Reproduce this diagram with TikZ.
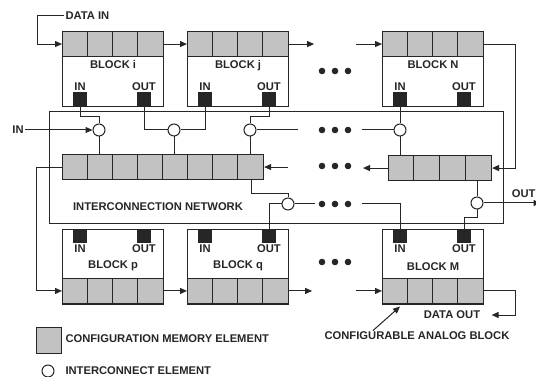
\documentclass[tikz,border=0pt]{standalone}
\usepackage{fontspec}
\setmainfont{Liberation Sans}
\usetikzlibrary{positioning,arrows.meta}

\begin{document}
\begin{tikzpicture}[x=1pt, y=-1pt,
  font=\fontsize{11.2}{13}\selectfont\bfseries,
  color=black!85, line width=1pt,
  blk/.style={draw, line width=1.1pt, minimum width=101pt, minimum height=75pt, inner sep=0pt},
  mem/.style={draw, line width=1.1pt, fill=black!24, minimum width=101pt, minimum height=25pt, inner sep=0pt},
  pin/.style={draw, fill=black!85, minimum size=13pt, inner sep=0pt},
  ic/.style={circle, draw, fill=white, minimum size=12pt, inner sep=0pt},
  lbl/.style={inner sep=1pt},
  >={Triangle[length=7pt,width=6pt]}]
\useasboundingbox (0,0) rectangle (536,377);
% top row of analog blocks
\foreach \n/\x in {i/62,j/187,N/382}{
  \node[blk, anchor=north west] (b\n) at (\x,31) {};
  \node[mem, anchor=north west] (m\n) at (\x,31) {};
  \foreach \k in {1,2,3} \draw (\x+25.25*\k,31) -- ++(0,25);
  \node[pin, anchor=south] (b\n-in) at (\x+18,106) {};
  \node[pin, anchor=south] (b\n-out) at (\x+82,106) {};
  \node[lbl, above=0pt of b\n-in] {IN};
  \node[lbl, above=0pt of b\n-out] {OUT};
  \node[lbl, below=2pt of m\n] {BLOCK \n};
}
% bottom row of analog blocks
\foreach \n/\x in {p/62,q/187,M/382}{
  \node[blk, anchor=north west] (b\n) at (\x,229) {};
  \node[mem, anchor=south west] (m\n) at (\x,304) {};
  \foreach \k in {1,2,3} \draw (\x+25.25*\k,279) -- ++(0,25);
  \node[pin, anchor=north] (b\n-in) at (\x+18,229) {};
  \node[pin, anchor=north] (b\n-out) at (\x+82,229) {};
  \node[lbl, below=0pt of b\n-in] {IN};
  \node[lbl, below=0pt of b\n-out] {OUT};
  \node[lbl, above=6pt of m\n] {BLOCK \n};
}
% interconnection network
\node[draw, minimum width=454pt, minimum height=112pt, inner sep=0pt, anchor=north west] (netw) at (49,111) {};
\node[lbl] (netlbl) at (158,207) {INTERCONNECTION NETWORK};
\node[mem, minimum width=201pt, anchor=north west] (ml) at (62,154) {};
\foreach \k in {1,...,7} \draw (62+25.125*\k,154) -- ++(0,25);
\node[mem, minimum width=103pt, anchor=north west] (mr) at (388,155) {};
\foreach \k in {1,2,3} \draw (388+25.75*\k,155) -- ++(0,25);
\node[ic] (c1) at (99,130) {};
\node[ic] (c2) at (174,130) {};
\node[ic] (c3) at (250,130) {};
\node[ic] (cN) at (400,130) {};
\node[ic] (c4) at (288,204) {};
\node[ic] (c5) at (477,203) {};
% configuration data chain
\node[lbl, anchor=west] (din) at (64,16) {DATA IN};
\draw[->] (din.west) -- ++(-27,0) |- (mi.west);
\draw[->] (mi.east) -- (mj.west);
\draw[->] (mj.east) -- ++(25,0);
\draw[<-] (mN.west) -- ++(-26,0);
\draw[->] (mN.east) -- ++(31,0) |- (mr.east);
\draw[->] (mr.west) -- ++(-25,0);
\draw[<-] (ml.east) -- ++(24,0);
\draw[->] (ml.west) -- ++(-26,0) |- (mp.west);
\draw[->] (mp.east) -- (mq.west);
\draw[->] (mq.east) -- ++(23,0);
\draw[<-] (mM.west) -- ++(-26,0);
\node[lbl] (dout) at (452,315) {DATA OUT};
\draw[->] (mM.east) -- ++(31,0) |- ([xshift=10pt]dout.east);
% signal wiring
\node[lbl] (inlbl) at (18,130) {IN};
\draw[->] (inlbl) -- (c1);
\draw (bi-in.south) -- ++(0,11) -| (c1.north);
\draw (bi-out.south) |- (c2.west);
\draw (bj-in.south) |- (c2.east);
\draw (bj-out.south) -- ++(0,11) -| (c3.north);
\draw (bN-in.south) -- (cN.north);
\draw (c1.south) -- (c1 |- ml.north);
\draw (c2.south) -- (c2 |- ml.north);
\draw (c3.south) -- (c3 |- ml.north);
\draw (cN.south) -- (cN |- mr.north);
\draw (c3.east) -- ++(41,0);
\draw (cN.west) -- ++(-32,0);
\draw ([xshift=-13pt]ml.south east) -- ++(0,13) -| (c4.north);
\draw (c4.west) -| (bq-out.north);
\draw (c4.east) -- ++(20,0);
\draw (bM-in.north) |- ++(-38,-25);
\draw (c5.north) -- (c5 |- mr.south);
\draw (c5.south) -- ++(0,8) -| (bM-out.north);
\draw[->] (c5.east) -- ++(57,0);
\node[lbl, anchor=south east] (outlbl) at (537,199) {OUT};
% continuation dots
\foreach \y in {71,130,166,204,262}
  \foreach \dx in {-13,0,13} \fill (335+\dx,\y) circle (3.3pt);
\node[lbl] (cab) at (417,336) {CONFIGURABLE ANALOG BLOCK};
\draw[->] ([xshift=-44pt]cab.north) -- ++(27,-24);
% legend
\node[mem, minimum width=25pt, minimum height=26pt, anchor=north west] (lgm) at (36,327) {};
\node[lbl, anchor=west] at (64,339) {CONFIGURATION MEMORY ELEMENT};
\node[ic] (lgc) at (48,371) {};
\node[lbl, anchor=west] at (64,371) {INTERCONNECT ELEMENT};
\end{tikzpicture}
\end{document}
